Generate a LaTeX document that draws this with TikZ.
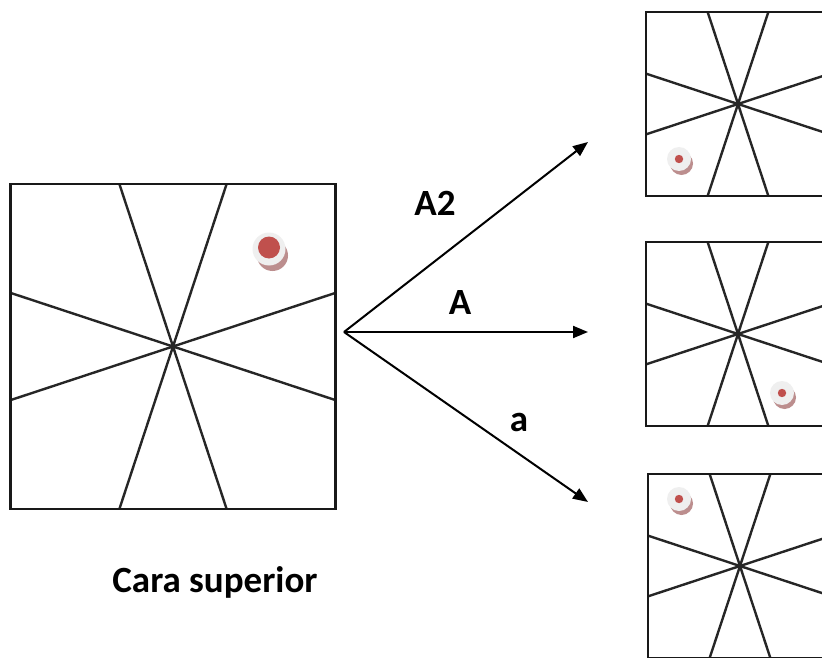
\documentclass[tikz,border=0pt]{standalone}
\usepackage{fontspec}
\setmainfont{Carlito}
\usetikzlibrary{arrows.meta}
\definecolor{pinred}{RGB}{192,80,77}
\definecolor{pingray}{RGB}{239,239,239}
\definecolor{pinshadow}{RGB}{160,95,95}
\tikzset{
  frame/.style={line width=2.6pt, draw=black!90},
  spoke/.style={line width=2.4pt, draw=black!85},
  flow/.style={line width=2pt, -{Triangle[length=15pt,width=12pt]}},
  lbl/.style={font=\bfseries\fontsize{37}{44}\selectfont, inner sep=0pt},
  % square with eight spokes; #1 = half size
  rosette/.pic={
    \draw[spoke] (0,0) -- (-0.33*#1,-#1);
    \draw[spoke] (0,0) -- ( 0.33*#1,-#1);
    \draw[spoke] (0,0) -- (-0.33*#1, #1);
    \draw[spoke] (0,0) -- ( 0.33*#1, #1);
    \draw[spoke] (0,0) -- (-#1,-0.33*#1);
    \draw[spoke] (0,0) -- (-#1, 0.33*#1);
    \draw[spoke] (0,0) -- ( #1,-0.33*#1);
    \draw[spoke] (0,0) -- ( #1, 0.33*#1);
    \draw[frame] (-#1,-#1) rectangle (#1,#1);
  },
  % large marker pin
  pin/.pic={
    \fill[pinshadow, opacity=0.7] (3.5,6.5) circle (15.5);
    \fill[pingray] (0,0) circle (16.5);
    \fill[pinred] (0,-1.5) circle (11);
  },
  % small marker pin
  smallpin/.pic={
    \fill[pinshadow, opacity=0.7] (2.5,4.5) circle (11.5);
    \fill[pingray] (0,0) circle (12);
    \fill[pinred] (0,0) circle (4.2);
  }
}
\begin{document}
\begin{tikzpicture}[x=1pt,y=-1pt]
  \useasboundingbox (0,0) rectangle (822,658);
  \fill[white] (0,0) rectangle (822,658);
  \clip (0,0) rectangle (822,658);

  % top face
  \pic at (173,346.5) {rosette=162.5};
  \pic at (269,249) {pin};
  \node[lbl] (cap) at (215,582) {Cara superior};

  % resulting faces
  \pic at (738,104) {rosette=92};
  \pic at (679,159) {smallpin};
  \pic at (738,334) {rosette=92};
  \pic at (782,393) {smallpin};
  \pic at (740,566) {rosette=92};
  \pic at (679,499) {smallpin};

  % branches
  \coordinate (src) at (344,332);
  \coordinate (up) at (588,142);
  \coordinate (mid) at (588,332);
  \coordinate (down) at (588,502);
  \draw[flow] (src) -- (up);
  \draw[flow] (src) -- (mid);
  \draw[flow] (src) -- (down);

  \node[lbl] (la2) at (435,203) {A2};
  \node[lbl] (lA) at (460,303) {A};
  \node[lbl] (la) at (519,422) {a};
\end{tikzpicture}
\end{document}
